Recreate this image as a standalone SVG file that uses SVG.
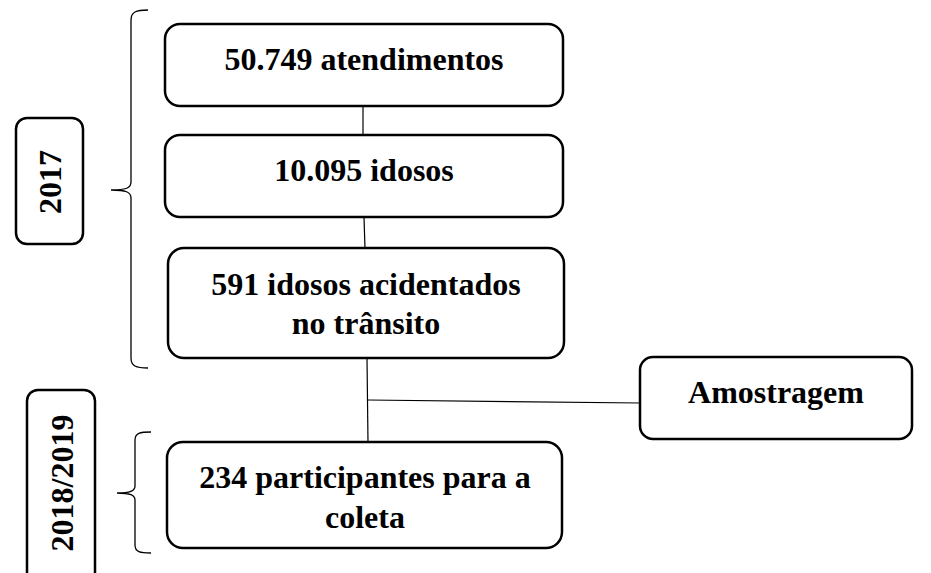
<svg xmlns="http://www.w3.org/2000/svg" width="931" height="573" viewBox="0 0 931 573">
<style>
.box{fill:#fff;stroke:#000;stroke-width:2.5}
.t{font-family:"Liberation Serif","Times New Roman",serif;font-weight:bold;font-size:32px;fill:#000;text-anchor:middle}
.c{fill:none;stroke:#000;stroke-width:1.2}
.br{fill:none;stroke:#000;stroke-width:1.3}
</style>
<rect width="931" height="573" fill="#fff"/>
<g id="connectors">
<line class="c" x1="363" y1="106" x2="363" y2="136"/>
<line class="c" x1="364" y1="217" x2="365" y2="249"/>
<line class="c" x1="367" y1="358" x2="368" y2="443"/>
<line class="c" x1="368" y1="400" x2="641" y2="403"/>
</g>
<g id="brace2017">
<path class="br" d="M148,10 C136,10 131,12 131,20 L131,182 C131,188 126,190 111,190 C126,190 131,192 131,198 L131,358 C131,366 136,368 148,368"/>
</g>
<g id="brace2018">
<path class="br" d="M151,432 C140,432 135,433 135,440 L135,486 C135,491 130,493 117,493 C130,493 135,495 135,500 L135,545 C135,552 140,553 151,553"/>
</g>
<g id="year2017">
<rect class="box" x="16" y="118" width="67" height="126" rx="11"/>
<text class="t" transform="translate(61,182) rotate(-90)">2017</text>
</g>
<g id="year2018">
<rect class="box" x="27" y="390" width="68" height="200" rx="11"/>
<text class="t" transform="translate(73,483) rotate(-90)">2018/2019</text>
</g>
<g id="n1">
<rect class="box" x="165" y="24" width="398" height="82" rx="15"/>
<text class="t" x="364" y="70">50.749 atendimentos</text>
</g>
<g id="n2">
<rect class="box" x="165" y="135" width="398" height="82" rx="15"/>
<text class="t" x="364" y="181">10.095 idosos</text>
</g>
<g id="n3">
<rect class="box" x="168" y="248" width="396" height="110" rx="16"/>
<text class="t" x="366" y="295">591 idosos acidentados</text>
<text class="t" x="366" y="334">no trânsito</text>
</g>
<g id="n4">
<rect class="box" x="167" y="442" width="395" height="106" rx="16"/>
<text class="t" x="365" y="488">234 participantes para a</text>
<text class="t" x="365" y="528">coleta</text>
</g>
<g id="n5">
<rect class="box" x="640" y="357" width="272" height="82" rx="13"/>
<text class="t" x="776" y="403">Amostragem</text>
</g>
</svg>
